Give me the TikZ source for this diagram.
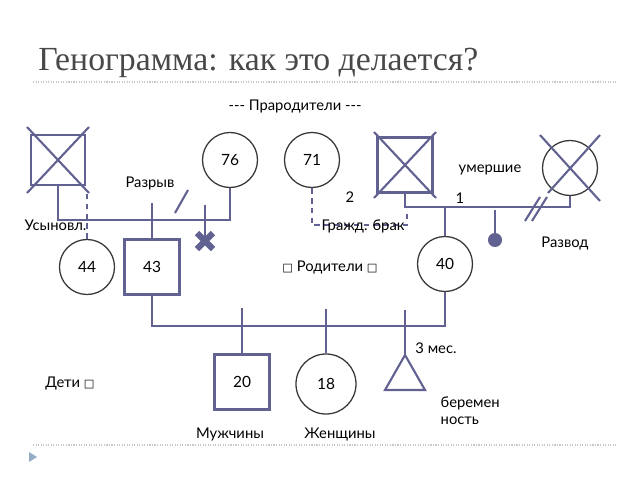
\documentclass[tikz,border=0pt]{standalone}
\usepackage{fontspec}
\setmainfont{Lato}
\newfontfamily\titlefont{Liberation Serif}
\newfontfamily\boxfont{DejaVu Sans}
\usetikzlibrary{positioning}
\definecolor{gline}{RGB}{98,98,146}
\definecolor{gdark}{RGB}{55,55,55}
\definecolor{gtitle}{RGB}{72,72,72}
\definecolor{gdots}{RGB}{200,200,200}
\definecolor{gbullet}{RGB}{150,172,196}
\newcommand{\gbox}{{\boxfont\fontsize{8}{9}\selectfont □}}

\tikzset{
  gl/.style={draw=gline, line width=1.5pt},
  gdash/.style={gl, dash pattern=on 4pt off 3pt},
  male/.style={rectangle, draw=gline, line width=1.5pt, minimum size=1.375cm, inner sep=0pt},
  female/.style={circle, draw=gdark, line width=0.9pt, minimum size=1.375cm, inner sep=0pt},
  lbl/.style={font=\fontsize{10.5}{12.5}\selectfont, text=black, inner sep=1pt},
  rule/.style={draw=gdots, line width=0.8pt, dash pattern=on 0.8pt off 1pt}
}

\begin{document}
\begin{tikzpicture}[x=0.025cm, y=-0.025cm, font=\fontsize{11}{13}\selectfont]
		\useasboundingbox (0,0) rectangle (640,480);
		% title and slide rules
		\node[anchor=base west, text=gtitle, font=\titlefont\fontsize{24}{27}\selectfont, inner sep=0pt] (title) at (38,70) {Генограмма: как это делается?};
		\draw[rule] (33,82) -- (617,82);
		\draw[rule] (33,445) -- (617,445);
		\fill[gbullet] (29,452) -- (37,457) -- (29,462) -- cycle;

		% grandparents
		\node[male, minimum width=1.33cm, minimum height=1.25cm] (gpa1) at (58,160) {};
		\draw[gl] (gpa1.center) +(-31,-33) -- +(31,33) +(31,-33) -- +(-31,33);
		\node[female] (gma1) at (230,160) {76};
		\node[female] (gma2) at (312,160) {71};
		\node[male] (gpa2) at (405,165) {};
		\draw[gl] (gpa2.center) +(-31,-33) -- +(31,33) +(31,-33) -- +(-31,33);
		\node[female] (gma3) at (570,168) {};
		\draw[gl] (gma3.center) +(-30,-33) -- +(30,33) +(30,-33) -- +(-22,25);

		% parents
		\node[female] (p44) at (87,267) {44};
		\node[male] (p43) at (152,267) {43};
		\node[female] (p40) at (445,264) {40};
		\coordinate (lost) at (205,241);
		\node[circle, fill=gline, inner sep=0pt, minimum size=10pt] (misc) at (495,240) {};

		% children
		\node[male] (c20) at (242,382) {20};
		\node[female, minimum size=1.5cm] (c18) at (326,384) {18};
		\coordinate (preg) at (405,355);
		\draw[gl] (preg) -- ++(20,35) -- ++(-40,0) -- cycle;

		% marriages
		\coordinate (mar1) at (150,220);
		\coordinate (mar2) at (445,207);
		\coordinate (mar3) at (300,326);
		\coordinate (civ) at (407,213);
		\draw[gl] (gpa1.south) |- (mar1) -| (gma1.south);
		\draw[gl] (gpa2.south) |- (mar2) -| (gma3.south);
		\draw[gl] (p43.south) |- (mar3) -| (p40.south);
		\draw[gdash] (gma2.south) -- ++(0,37) -| (civ);

		% descent lines
		\draw[gl] (p43.north) -- ++(0,-35);
		\draw[gdash] (p44.north) -- ++(0,-47);
		\draw[gl] (lost) -- ++(0,-36);
		\draw[gl, line width=4.5pt] (lost) +(-8,-8) -- +(8,8) +(8,-8) -- +(-8,8);
		\draw[gl] (mar2) -- (p40.north);
		\draw[gl] (misc) -- ++(0,-30);
		\draw[gl] (c20.north) -- ++(0,-45);
		\draw[gl] (c18.north) -- ++(0,-44);
		\draw[gl] (preg) -- ++(0,-45);

		% break and divorce marks
		\draw[gl] (175,213) -- (188,190);
		\draw[gl] (525,221) -- (540,197);
		\draw[gl] (532,221) -- (547,197);

		% labels
		\node[lbl] (tgp) at (295,106) {-{}-{}- Прародители -{}-{}-};
		\node[lbl] (tbrk) at (150,183) {Разрыв};
		\node[lbl, anchor=west] (tadp) at (23,225) {Усыновл.};
		\node[lbl] (ttwo) at (350,197) {2};
		\node[lbl] (tone) at (460,198) {1};
		\node[lbl] (tdead) at (490,170) {умершие};
		\node[lbl] (tcivil) at (363,226) {Гражд. брак};
		\node[lbl] (tdiv) at (565,243) {Развод};
		\node[lbl] (tpar) at (330,267) {\gbox\ Родители \gbox};
		\node[lbl] (tmon) at (436,348) {3 мес.};
		\node[lbl, anchor=north west, align=left] (tpreg) at (439,395) {беремен\\ность};
		\node[lbl] (tkids) at (70,383) {Дети \gbox};
		\node[lbl] (tmale) at (230,434) {Мужчины};
		\node[lbl] (tfem) at (340,434) {Женщины};
	\end{tikzpicture}
\end{document}
